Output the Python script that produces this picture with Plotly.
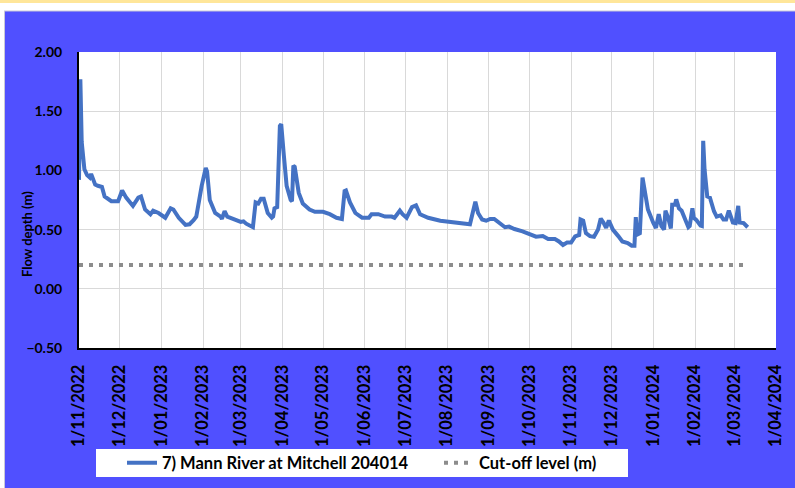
import plotly.graph_objects as go

# ---- data ----
flow_dates = [
    "2022-11-01", "2022-11-02", "2022-11-03", "2022-11-05", "2022-11-07", "2022-11-09",
    "2022-11-10", "2022-11-12", "2022-11-13", "2022-11-15", "2022-11-18", "2022-11-20",
    "2022-11-25", "2022-11-30", "2022-12-03", "2022-12-06", "2022-12-11", "2022-12-15",
    "2022-12-17", "2022-12-20", "2022-12-24", "2022-12-26", "2022-12-30", "2023-01-04",
    "2023-01-08", "2023-01-10", "2023-01-14", "2023-01-19", "2023-01-22", "2023-01-25",
    "2023-01-27", "2023-01-31", "2023-02-03", "2023-02-04", "2023-02-06", "2023-02-10",
    "2023-02-14", "2023-02-15", "2023-02-17", "2023-02-19", "2023-02-24", "2023-03-01",
    "2023-03-03", "2023-03-05", "2023-03-10", "2023-03-12", "2023-03-14", "2023-03-16",
    "2023-03-18", "2023-03-21", "2023-03-24", "2023-03-25", "2023-03-26", "2023-03-28",
    "2023-03-30", "2023-03-31", "2023-04-02", "2023-04-04", "2023-04-07", "2023-04-08",
    "2023-04-09", "2023-04-10", "2023-04-13", "2023-04-16", "2023-04-21", "2023-04-25",
    "2023-04-29", "2023-05-01", "2023-05-06", "2023-05-11", "2023-05-15", "2023-05-17",
    "2023-05-18", "2023-05-21", "2023-05-25", "2023-05-30", "2023-06-04", "2023-06-06",
    "2023-06-11", "2023-06-16", "2023-06-21", "2023-06-23", "2023-06-25", "2023-06-27",
    "2023-06-29", "2023-07-02", "2023-07-06", "2023-07-09", "2023-07-12", "2023-07-18",
    "2023-07-27", "2023-08-05", "2023-08-13", "2023-08-18", "2023-08-20", "2023-08-22",
    "2023-08-24", "2023-08-27", "2023-08-30", "2023-09-02", "2023-09-05", "2023-09-09",
    "2023-09-13", "2023-09-16", "2023-09-20", "2023-09-26", "2023-10-01", "2023-10-06",
    "2023-10-11", "2023-10-15", "2023-10-20", "2023-10-23", "2023-10-26", "2023-10-29",
    "2023-11-01", "2023-11-04", "2023-11-07", "2023-11-08", "2023-11-10", "2023-11-12",
    "2023-11-15", "2023-11-18", "2023-11-21", "2023-11-23", "2023-11-25", "2023-11-27",
    "2023-11-29", "2023-12-02", "2023-12-06", "2023-12-09", "2023-12-13", "2023-12-16",
    "2023-12-18", "2023-12-19", "2023-12-20", "2023-12-22", "2023-12-24", "2023-12-25",
    "2023-12-28", "2024-01-01", "2024-01-03", "2024-01-05", "2024-01-07", "2024-01-09",
    "2024-01-10", "2024-01-12", "2024-01-14", "2024-01-15", "2024-01-17", "2024-01-18",
    "2024-01-20", "2024-01-22", "2024-01-25", "2024-01-27", "2024-01-28", "2024-01-30",
    "2024-01-31", "2024-02-02", "2024-02-05", "2024-02-06", "2024-02-07", "2024-02-08",
    "2024-02-10", "2024-02-12", "2024-02-15", "2024-02-17", "2024-02-20", "2024-02-22",
    "2024-02-24", "2024-02-26", "2024-02-29", "2024-03-02", "2024-03-04", "2024-03-05",
    "2024-03-08", "2024-03-11",
]
flow_depth = [
    0.92, 1.77, 1.24, 1.01, 0.96, 0.94,
    0.97, 0.90, 0.88, 0.87, 0.86, 0.78,
    0.74, 0.74, 0.83, 0.77, 0.70, 0.77,
    0.78, 0.67, 0.63, 0.66, 0.64, 0.60,
    0.68, 0.67, 0.60, 0.54, 0.545, 0.58,
    0.61, 0.87, 1.02, 0.99, 0.75, 0.64,
    0.61, 0.59, 0.655, 0.61, 0.585, 0.565,
    0.57, 0.55, 0.52, 0.73, 0.72, 0.76,
    0.76, 0.64, 0.60, 0.61, 0.68, 0.69,
    1.375, 1.39, 1.12, 0.87, 0.75, 0.74,
    1.04, 1.03, 0.81, 0.72, 0.67, 0.65,
    0.65, 0.65, 0.63, 0.60, 0.59, 0.825,
    0.83, 0.73, 0.64, 0.60, 0.60, 0.63,
    0.63, 0.61, 0.61, 0.60, 0.63, 0.66,
    0.63, 0.60, 0.69, 0.705, 0.63, 0.60,
    0.575, 0.56, 0.55, 0.545, 0.64, 0.735,
    0.64, 0.585, 0.575, 0.59, 0.59, 0.55,
    0.52, 0.525, 0.505, 0.485, 0.465, 0.44,
    0.445, 0.42, 0.42, 0.40, 0.37, 0.39,
    0.39, 0.443, 0.455, 0.585, 0.575, 0.47,
    0.445, 0.44, 0.50, 0.593, 0.56, 0.515,
    0.577, 0.50, 0.445, 0.40, 0.387, 0.364,
    0.364, 0.605, 0.458, 0.47, 0.94, 0.88,
    0.67, 0.556, 0.514, 0.63, 0.53, 0.50,
    0.66, 0.60, 0.51, 0.71, 0.71, 0.755,
    0.68, 0.66, 0.57, 0.52, 0.53, 0.68,
    0.60, 0.58, 0.534, 0.53, 1.25, 1.01,
    0.78, 0.77, 0.655, 0.61, 0.62, 0.585,
    0.585, 0.66, 0.56, 0.555, 0.70, 0.56,
    0.555, 0.52,
]
cutoff_dates = ["2022-11-01", "2024-03-08"]
cutoff_level = [0.20, 0.20]

tick_dates = [
    "2022-11-01", "2022-12-01", "2023-01-01", "2023-02-01", "2023-03-01", "2023-04-01",
    "2023-05-01", "2023-06-01", "2023-07-01", "2023-08-01", "2023-09-01", "2023-10-01",
    "2023-11-01", "2023-12-01", "2024-01-01", "2024-02-01", "2024-03-01", "2024-04-01",
]
tick_labels = [
    "1/11/2022", "1/12/2022", "1/01/2023", "1/02/2023", "1/03/2023", "1/04/2023",
    "1/05/2023", "1/06/2023", "1/07/2023", "1/08/2023", "1/09/2023", "1/10/2023",
    "1/11/2023", "1/12/2023", "1/01/2024", "1/02/2024", "1/03/2024", "1/04/2024",
]
y_ticks = [-0.5, 0.0, 0.5, 1.0, 1.5, 2.0]

series_name = "7) Mann River at Mitchell 204014"
cutoff_name = "Cut-off level (m)"

# ---- layout geometry (pixels) ----
W, H = 795, 488
L, R, T, B = 79, 776, 52, 348
PW, PH = R - L, B - T


def px(x):
    return (x - L) / PW


def py(y):
    return (B - y) / PH


FONT = "Lato, 'Open Sans', sans-serif"
BLUE_BG = "#5050FF"

fig = go.Figure()
fig.add_trace(go.Scatter(
    x=flow_dates, y=flow_depth, mode="lines", name=series_name,
    line=dict(color="#4472C4", width=4),
))
fig.add_trace(go.Scatter(
    x=cutoff_dates, y=cutoff_level, mode="lines", name=cutoff_name,
    line=dict(color="#8C8C8C", width=4, dash="4px,6px"),
))

shapes = [
    # white strip at top and left
    dict(type="rect", xref="paper", yref="paper", x0=px(0), x1=px(W), y0=py(11), y1=py(0),
         fillcolor="white", line=dict(width=0), layer="below"),
    dict(type="rect", xref="paper", yref="paper", x0=px(0), x1=px(4), y0=py(H), y1=py(0),
         fillcolor="white", line=dict(width=0), layer="below"),
    # yellow strip
    dict(type="rect", xref="paper", yref="paper", x0=px(0), x1=px(W), y0=py(3), y1=py(0),
         fillcolor="#FFE699", line=dict(width=0), layer="below"),
    # panel border
    dict(type="line", xref="paper", yref="paper", x0=px(4), x1=px(W), y0=py(11), y1=py(11),
         line=dict(color="#C8C8D8", width=1), layer="below"),
    dict(type="line", xref="paper", yref="paper", x0=px(4.5), x1=px(4.5), y0=py(11), y1=py(H),
         line=dict(color="#C8C8D8", width=1), layer="below"),
    # legend box
    dict(type="rect", xref="paper", yref="paper", x0=px(96), x1=px(628), y0=py(477), y1=py(449),
         fillcolor="white", line=dict(width=0), layer="below"),
]

fig.update_layout(
    width=W, height=H,
    margin=dict(l=L, r=W - R, t=T, b=H - B, pad=0, autoexpand=False),
    paper_bgcolor=BLUE_BG,
    plot_bgcolor="white",
    font=dict(family=FONT, color="black"),
    shapes=shapes,
    showlegend=True,
    legend=dict(
        orientation="h", x=px(122), xanchor="left", y=py(463), yanchor="middle",
        bgcolor="rgba(0,0,0,0)", font=dict(family=FONT, size=16.5, color="black", weight="bold"),
        entrywidth=272, entrywidthmode="pixels", itemwidth=30,
    ),
    annotations=[
        dict(text="<b>Flow depth (m)</b>", xref="paper", yref="paper", x=px(27), y=py(234),
             textangle=-90, showarrow=False, font=dict(family=FONT, size=13, color="black"),
             xanchor="center", yanchor="middle"),
    ],
)

fig.update_xaxes(
    range=["2022-11-01", "2024-04-01"], automargin=False,
    tickmode="array", tickvals=tick_dates, ticktext=tick_labels,
    tickangle=-90, tickfont=dict(family=FONT, size=16.5, color="black", weight="bold"),
    showgrid=True, gridcolor="#D9D9D9", gridwidth=1,
    showline=True, linecolor="black", linewidth=2,
    ticks="", ticklabelstandoff=8, zeroline=False,
)
fig.update_yaxes(
    range=[-0.5, 2.0], tickmode="array", tickvals=y_ticks, automargin=False,
    tickformat=".2f",
    tickfont=dict(family=FONT, size=14, color="black", weight="bold"),
    showgrid=True, gridcolor="#D9D9D9", gridwidth=1,
    showline=True, linecolor="black", linewidth=2,
    ticks="", ticklabelstandoff=12, zeroline=False,
)

fig.write_html(
    "out.html",
    config={"displayModeBar": False},
    post_script="document.body.style.margin='0';document.body.style.padding='0';",
)
